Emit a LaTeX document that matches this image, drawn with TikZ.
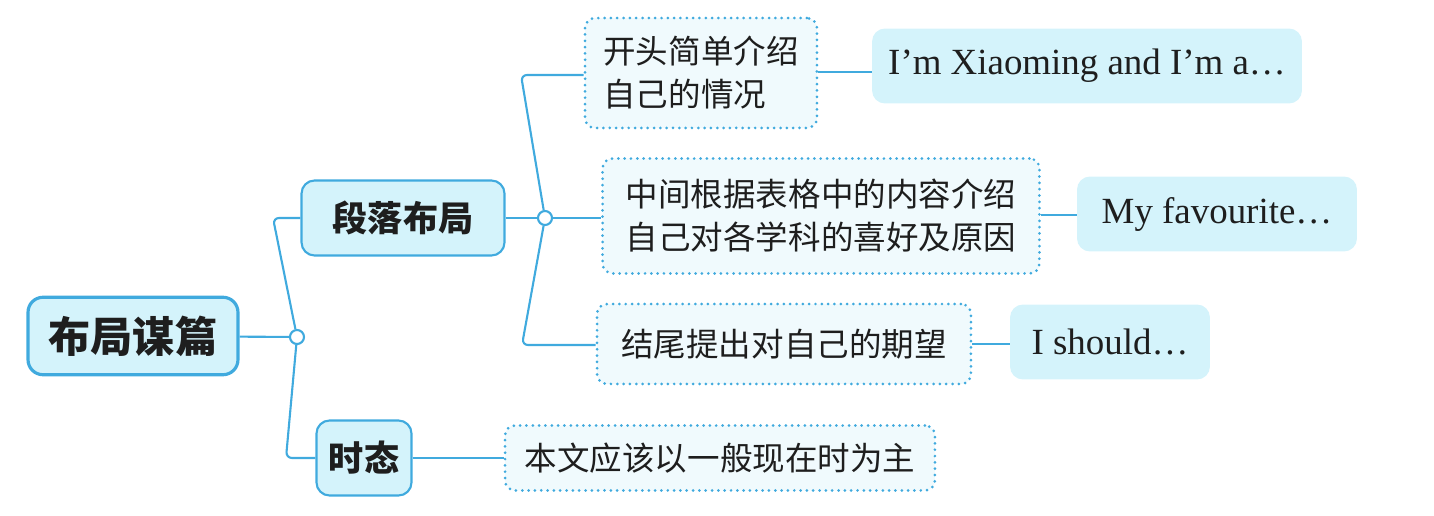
\documentclass[tikz,border=0pt]{standalone}
\usepackage{fontspec}
\newfontfamily\cjk{Noto Sans CJK SC}
\newfontfamily\en{Liberation Serif}
\usetikzlibrary{arrows.meta,calc}

\definecolor{azul}{RGB}{64,170,222}
\definecolor{fondo}{RGB}{212,243,251}
\definecolor{claro}{RGB}{240,250,253}
\definecolor{tinta}{RGB}{30,30,30}

\begin{document}
\begin{tikzpicture}[
    x={(0.02cm,0cm)},
    y={(0cm,-0.02cm)},
    line join=round,
    every node/.style={text=tinta, inner sep=0pt},
    raiz/.style={draw=azul, line width=1.8pt, fill=fondo, rounded corners=0.3cm,
        minimum width=4.2cm, minimum height=1.55cm,
        font=\cjk\bfseries\fontsize{24}{29}\selectfont},
    rama/.style={draw=azul, line width=1.2pt, fill=fondo, rounded corners=0.26cm,
        minimum height=1.5cm, font=\cjk\bfseries\fontsize{20}{24}\selectfont},
    nota/.style={draw=azul, line width=1.7pt, line cap=round,
        dash pattern=on 0pt off 3.6pt, fill=claro, rounded corners=0.2cm,
        align=left, font=\cjk\fontsize{18.5}{24.5}\selectfont},
    ejemplo/.style={fill=fondo, rounded corners=0.26cm,
        minimum height=1.5cm, font=\en\fontsize{21}{25}\selectfont},
    enlace/.style={draw=azul, line width=1.2pt, rounded corners=0.12cm},
    nudo/.style={circle, draw=azul, line width=1.2pt, fill=white, minimum size=0.28cm}
]

\useasboundingbox (0,0) rectangle (1434,516);

% raiz y ramas
\node[raiz] (raiz) at (133,336) {布局谋篇};
\node[nudo] (n1) at (297,337) {};
\node[rama, minimum width=4.06cm] (parrafo) at (403,218) {段落布局};
\node[rama, minimum width=1.9cm] (tiempo) at (364,458) {时态};
\node[nudo] (n2) at (545,218) {};

% notas
\node[nota, minimum width=4.64cm, minimum height=2.2cm] (inicio) at (701,73)
    {开头简单介绍\\自己的情况};
\node[nota, minimum width=8.74cm, minimum height=2.3cm] (medio) at (821,216)
    {中间根据表格中的内容介绍\\自己对各学科的喜好及原因};
\node[nota, minimum width=7.48cm, minimum height=1.6cm] (final) at (784,344)
    {结尾提出对自己的期望};
\node[nota, minimum width=8.6cm, minimum height=1.3cm] (presente) at (720,458)
    {本文应该以一般现在时为主};

% ejemplos
\node[ejemplo, minimum width=8.6cm] (ej1) at (1087,66) {I’m Xiaoming and I’m a…};
\node[ejemplo, minimum width=5.6cm] (ej2) at (1217,214) {My favourite…};
\node[ejemplo, minimum width=4.0cm] (ej3) at (1110,342) {I should…};

% enlaces
\draw[enlace] (raiz) -- (n1);
\draw[enlace] (n1) -- (273,218) -- (parrafo.west);
\draw[enlace] (n1) -- (286,458) -- (tiempo.west);
\draw[enlace] (parrafo) -- (n2);
\draw[enlace] (n2) -- (521,75) -- (inicio.west |- 0,75);
\draw[enlace] (n2) -- (medio.west |- n2);
\draw[enlace] (n2) -- (522,345) -- (final.west |- 0,345);
\draw[enlace] (tiempo) -- (presente);
\draw[enlace] (inicio.east |- 0,72) -- (ej1.west |- 0,72);
\draw[enlace] (medio.east |- 0,215) -- (ej2.west |- 0,215);
\draw[enlace] (final.east |- 0,344) -- (ej3.west |- 0,344);

\end{tikzpicture}
\end{document}
